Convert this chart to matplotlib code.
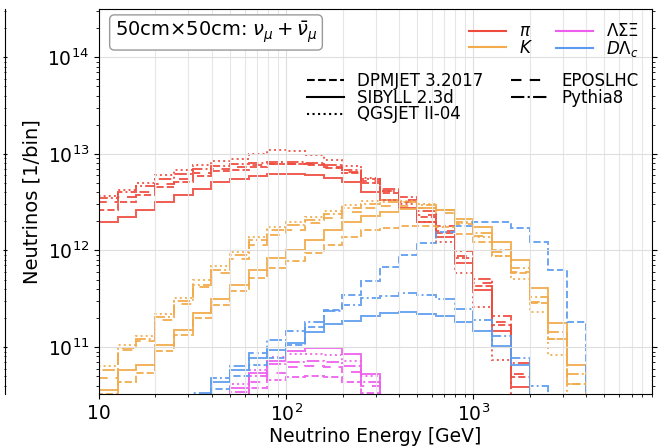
import numpy as np
import matplotlib.pyplot as plt
from matplotlib.lines import Line2D

nan = np.nan

# energy bins: 10 per decade from 10 GeV to ~4 TeV
edges = np.logspace(1, 3.6, 27)

# log10(neutrinos per bin)
pi_dpmjet = [12.42, 12.50, 12.57, 12.66, 12.71, 12.77, 12.82, 12.83, 12.86, 12.89, 12.89, 12.88, 12.85,
             12.80, 12.70, 12.60, 12.50, 12.35, 12.18, 11.92, 11.63, 11.23, 10.69, nan, nan, nan]
pi_sibyll = [12.30, 12.35, 12.42, 12.50, 12.57, 12.64, 12.71, 12.745, 12.77, 12.79, 12.79, 12.78, 12.75,
             12.71, 12.61, 12.52, 12.44, 12.29, 12.14, 11.87, 11.59, 11.17, 10.59, nan, nan, nan]
pi_qgsjet = [12.56, 12.63, 12.70, 12.78, 12.83, 12.88, 12.93, 12.95, 13.00, 13.04, 13.03, 12.99, 12.94,
             12.87, 12.75, 12.62, 12.48, 12.29, 12.09, 11.77, 11.42, 10.87, 10.30, nan, nan, nan]
pi_epos = [12.50, 12.55, 12.61, 12.69, 12.74, 12.80, 12.84, 12.865, 12.88, 12.90, 12.90, 12.89, 12.86,
           12.81, 12.72, 12.62, 12.52, 12.37, 12.20, 11.94, 11.66, 11.26, 10.72, nan, nan, nan]
pi_pythia = [12.54, 12.61, 12.67, 12.745, 12.79, 12.84, 12.87, 12.90, 12.91, 12.92, 12.92, 12.91, 12.88,
             12.83, 12.74, 12.64, 12.55, 12.41, 12.25, 11.99, 11.70, 11.32, 10.84, 10.30, nan, nan]

k_dpmjet = [10.51, 10.64, 10.73, 10.96, 11.13, 11.30, 11.44, 11.58, 11.72, 11.82, 11.89, 11.97, 12.06,
            12.14, 12.21, 12.23, 12.25, 12.25, 12.24, 12.17, 12.09, 11.94, 11.77, 11.46, 11.08, 10.62]
k_sibyll = [10.56, 10.76, 10.81, 11.02, 11.18, 11.35, 11.50, 11.64, 11.80, 11.92, 12.01, 12.11, 12.21,
            12.30, 12.36, 12.40, 12.43, 12.44, 12.42, 12.33, 12.24, 12.09, 11.90, 11.61, 11.25, 10.82]
k_qgsjet = [10.80, 11.02, 11.11, 11.34, 11.51, 11.69, 11.84, 11.98, 12.14, 12.24, 12.29, 12.35, 12.41,
            12.47, 12.51, 12.52, 12.51, 12.48, 12.42, 12.28, 12.14, 11.94, 11.70, 11.36, 10.92, 10.42]
k_epos = [10.68, 10.97, 11.06, 11.28, 11.45, 11.62, 11.77, 11.91, 12.06, 12.16, 12.21, 12.28, 12.34,
          12.40, 12.44, 12.46, 12.46, 12.44, 12.39, 12.27, 12.15, 11.98, 11.78, 11.47, 11.08, 10.62]
k_pythia = [10.76, 10.99, 11.08, 11.31, 11.48, 11.64, 11.80, 11.95, 12.11, 12.21, 12.26, 12.32, 12.38,
            12.44, 12.48, 12.50, 12.50, 12.47, 12.42, 12.30, 12.18, 12.01, 11.82, 11.52, 11.16, 10.72]

hyp_dpmjet = [nan] * 7 + [10.45, 10.58, 10.66, 10.69, 10.70, 10.69, 10.64, 10.52] + [nan] * 11
hyp_sibyll = [nan] * 7 + [10.58, 10.73, 10.86, 10.96, 10.99, 10.99, 10.93, 10.72] + [nan] * 11
hyp_qgsjet = [nan] * 7 + [10.62, 10.76, 10.90, 10.93, 10.93, 10.92, 10.86, 10.70] + [nan] * 11
hyp_epos = [nan] * 7 + [10.50, 10.64, 10.73, 10.79, 10.80, 10.79, 10.74, 10.60] + [nan] * 11
hyp_pythia = [nan] * 7 + [10.54, 10.70, 10.83, 10.85, 10.86, 10.85, 10.80, 10.64] + [nan] * 11

charm_dpmjet = [nan] * 5 + [10.45, 10.57, 10.70, 10.81, 10.89, 11.02, 11.21, 11.38, 11.54, 11.68, 11.83,
                            11.95, 12.08, 12.19, 12.25, 12.30, 12.30, 12.23, 12.09, 11.80, 11.26]
charm_sibyll = [nan] * 5 + [10.50, 10.64, 10.76, 10.89, 10.97, 11.04, 11.16, 11.24, 11.27, 11.32, 11.35,
                            11.36, 11.34, 11.32, 11.26, 11.17, 11.01, 10.81, 10.40, nan, nan]
charm_pythia = [nan] * 5 + [10.53, 10.68, 10.80, 10.94, 11.07, 11.17, 11.26, 11.37, 11.44, 11.51, 11.53,
                            11.56, 11.54, 11.50, 11.39, 11.28, 11.11, 10.89, 10.60, 10.30, nan]

generators = ["DPMJET 3.2017", "SIBYLL 2.3d", "QGSJET II-04", "EPOSLHC", "Pythia8"]
styles = ["--", "-", ":", (0, (5, 4)), "-."]
parents = [r"$\pi$", r"$K$", r"$\Lambda\Sigma\Xi$", r"$D\Lambda_c$"]
colors = ["#ee4b3d", "#f2aa4a", "#ee5ded", "#5c9cef"]

curves = [
    (0, [pi_dpmjet, pi_sibyll, pi_qgsjet, pi_epos, pi_pythia]),
    (1, [k_dpmjet, k_sibyll, k_qgsjet, k_epos, k_pythia]),
    (2, [hyp_dpmjet, hyp_sibyll, hyp_qgsjet, hyp_epos, hyp_pythia]),
    (3, [charm_dpmjet, charm_sibyll, None, None, charm_pythia]),
]

fig = plt.figure(figsize=(6.58, 4.48), dpi=100)
ax = fig.add_axes([0.1505, 0.1205, 0.8404, 0.8595])

for ip, series in curves:
    for ig, logn in enumerate(series):
        if logn is None:
            continue
        n = 10 ** np.array(logn)
        n = np.where(np.isnan(n), 1e8, n)
        ax.stairs(n, edges, baseline=1e8, color=colors[ip], ls=styles[ig], lw=1.4, alpha=0.9)

ax.set_xscale("log")
ax.set_yscale("log")
ax.set_xlim(10, 9000)
ax.set_ylim(3.27e10, 3.16e14)
ax.set_xticks([10, 100, 1000])
ax.set_xticklabels(["10", "$10^2$", "$10^3$"])
ax.tick_params(axis="both", which="major", labelsize=13.5)
ax.tick_params(axis="y", which="both", right=True)
ax.grid(which="major", color="0.87", lw=0.8)
ax.grid(which="minor", axis="x", color="0.9", lw=0.8)
ax.set_xlabel("Neutrino Energy [GeV]", fontsize=13.5, labelpad=1)
ax.set_ylabel("Neutrinos [1/bin]", fontsize=14)

ax.text(0.028, 0.972, r"50cm$\times$50cm: $\nu_\mu + \bar{\nu}_\mu$", transform=ax.transAxes,
        fontsize=14, va="top", ha="left",
        bbox=dict(boxstyle="round,pad=0.25", fc="white", ec="0.6"))

h1 = [Line2D([], [], color=c, lw=1.5) for c in colors]
leg1 = ax.legend(h1, parents, loc="upper right", bbox_to_anchor=(1.004, 1.004), ncol=2,
                 frameon=False, fontsize=12, labelspacing=-0.1, handlelength=2.2,
                 columnspacing=1.4)
ax.add_artist(leg1)
h2 = [Line2D([], [], color="black", ls=s, lw=1.5) for s in styles]
ax.legend(h2, generators, loc="upper right", bbox_to_anchor=(1.003, 0.875), ncol=2,
          frameon=False, fontsize=12, labelspacing=-0.08, handlelength=2.2, columnspacing=1.7)

# edge of the neighbouring panel
side = fig.add_axes([-0.5, 0.1205, 0.5076, 0.8595])
side.set_yscale("log")
side.set_ylim(3.27e10, 3.16e14)
for s in ["left", "top", "bottom"]:
    side.spines[s].set_visible(False)
side.set_xticks([])
side.yaxis.tick_right()
side.tick_params(axis="y", which="both", direction="inout", labelright=False)

fig.savefig("out.png", dpi=100)
